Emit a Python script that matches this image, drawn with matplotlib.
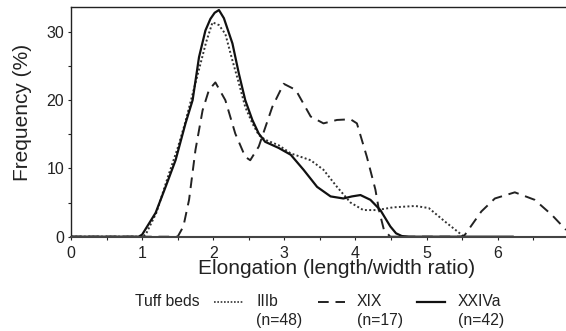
import matplotlib
matplotlib.use("Agg")
import matplotlib.pyplot as plt
from matplotlib.lines import Line2D
from matplotlib.ticker import MultipleLocator

plt.rcParams['font.family'] = ['Liberation Sans', 'DejaVu Sans']

# IIIb (dotted)
x_iiib = [0, 1.0, 1.05, 1.2, 1.37, 1.5, 1.6, 1.7, 1.8, 1.9, 1.99, 2.08, 2.17, 2.27, 2.36, 2.45,
          2.55, 2.64, 2.73, 2.92, 3.09, 3.37, 3.55, 3.74, 3.93, 4.11, 4.30, 4.53, 4.84, 5.03,
          5.26, 5.49, 5.52]
y_iiib = [0, 0, 0.3, 3.5, 9.0, 13.0, 16.5, 20.5, 24.5, 28.5, 31.4, 31.0, 29.7, 25.8, 22.5, 19.0,
          16.6, 14.9, 14.2, 13.4, 12.2, 11.2, 9.8, 7.3, 5.0, 3.9, 3.9, 4.3, 4.5, 4.2,
          2.2, 0.3, 0]

# XIX (dashed)
x_xix = [0, 1.5, 1.58, 1.66, 1.75, 1.85, 1.94, 2.03, 2.17, 2.31, 2.45, 2.52, 2.64, 2.83, 2.99,
         3.16, 3.37, 3.55, 3.74, 3.93, 4.02, 4.16, 4.28, 4.33, 4.40, 4.49, 5.5, 5.54, 5.77,
         5.96, 6.24, 6.52, 6.76, 6.96]
y_xix = [0, 0, 1.5, 5.4, 12.7, 18.5, 21.5, 22.6, 20.0, 15.1, 11.7, 11.2, 13.2, 19.0, 22.4,
         21.5, 17.6, 16.6, 17.1, 17.2, 16.6, 11.7, 6.9, 3.9, 1.0, 0, 0, 0.3, 3.7,
         5.6, 6.5, 5.4, 3.2, 1.0]

# XXIVa (solid)
x_xxiva = [0, 0.95, 1.0, 1.19, 1.33, 1.47, 1.61, 1.71, 1.80, 1.89, 1.96, 2.02, 2.08, 2.15, 2.27,
           2.36, 2.45, 2.55, 2.64, 2.73, 2.92, 3.09, 3.27, 3.46, 3.65, 3.83, 3.95, 4.07,
           4.21, 4.35, 4.49, 4.57, 4.65, 4.75, 6.21]
y_xxiva = [0, 0, 0.3, 3.5, 7.3, 11.2, 16.6, 20.0, 26.3, 30.2, 31.9, 32.8, 33.2, 32.0, 28.3,
           23.9, 20.0, 17.1, 15.1, 13.9, 13.0, 12.0, 9.8, 7.3, 5.9, 5.6, 5.9, 6.1,
           5.4, 3.9, 1.5, 0.5, 0.1, 0, 0]

fig = plt.figure(figsize=(5.66, 3.31), dpi=100)
ax = fig.add_axes([71/566, 1 - 236.7/331, (566 - 71)/566, (236.7 - 7.3)/331])

ax.plot(x_iiib, y_iiib, color='#333333', lw=1.4, linestyle=(0, (1, 1.2)))
ax.plot(x_xix, y_xix, color='#222222', lw=1.4, linestyle=(0, (5.5, 3.5)))
ax.plot(x_xxiva, y_xxiva, color='#111111', lw=1.6, linestyle='-')

ax.set_xlim(0, 6.96)
ax.set_ylim(0, 33.6)
ax.xaxis.set_major_locator(MultipleLocator(1))
ax.xaxis.set_minor_locator(MultipleLocator(0.5))
ax.yaxis.set_major_locator(MultipleLocator(10))
ax.yaxis.set_minor_locator(MultipleLocator(5))
ax.tick_params(which='both', direction='out', length=2.5, width=0.8, labelsize=11.5, colors='#222222')
ax.tick_params(axis='y', pad=2.5)
ax.tick_params(axis='x', pad=4)
ax.spines['right'].set_visible(False)
for s in ['top', 'left']:
    ax.spines[s].set_linewidth(1.0)
    ax.spines[s].set_color('#222222')
ax.spines['bottom'].set_linewidth(1.5)
ax.spines['bottom'].set_color('#444444')

ax.set_ylabel('Frequency (%)', fontsize=15, color='#222222')
ax.yaxis.set_label_coords(-0.079, 0.541)
ax.set_xlabel('Elongation (length/width ratio)', fontsize=15, color='#222222')
ax.xaxis.set_label_coords(0.536, -0.098)

# legend built manually
leg_fs = 11.3
ty = 1 - 302/331
ty2 = 1 - 320/331
fig.text(135/566, ty, 'Tuff beds', fontsize=leg_fs, va='center', ha='left', color='#222222')
fig.add_artist(Line2D([214/566, 243/566], [ty, ty], color='#333333', lw=1.2,
                      linestyle=(0, (1, 1))))
fig.text(256/566, ty, 'IIIb', fontsize=leg_fs, va='center', ha='left', color='#222222')
fig.text(256/566, ty2, '(n=48)', fontsize=leg_fs, va='center', ha='left', color='#222222')
fig.add_artist(Line2D([318/566, 345/566], [ty, ty], color='#222222', lw=1.4,
                      linestyle=(0, (5.5, 3.5))))
fig.text(357/566, ty, 'XIX', fontsize=leg_fs, va='center', ha='left', color='#222222')
fig.text(357/566, ty2, '(n=17)', fontsize=leg_fs, va='center', ha='left', color='#222222')
fig.add_artist(Line2D([417/566, 445/566], [ty, ty], color='#111111', lw=1.6))
fig.text(458/566, ty, 'XXIVa', fontsize=leg_fs, va='center', ha='left', color='#222222')
fig.text(458/566, ty2, '(n=42)', fontsize=leg_fs, va='center', ha='left', color='#222222')

fig.savefig('out.png', dpi=100)
